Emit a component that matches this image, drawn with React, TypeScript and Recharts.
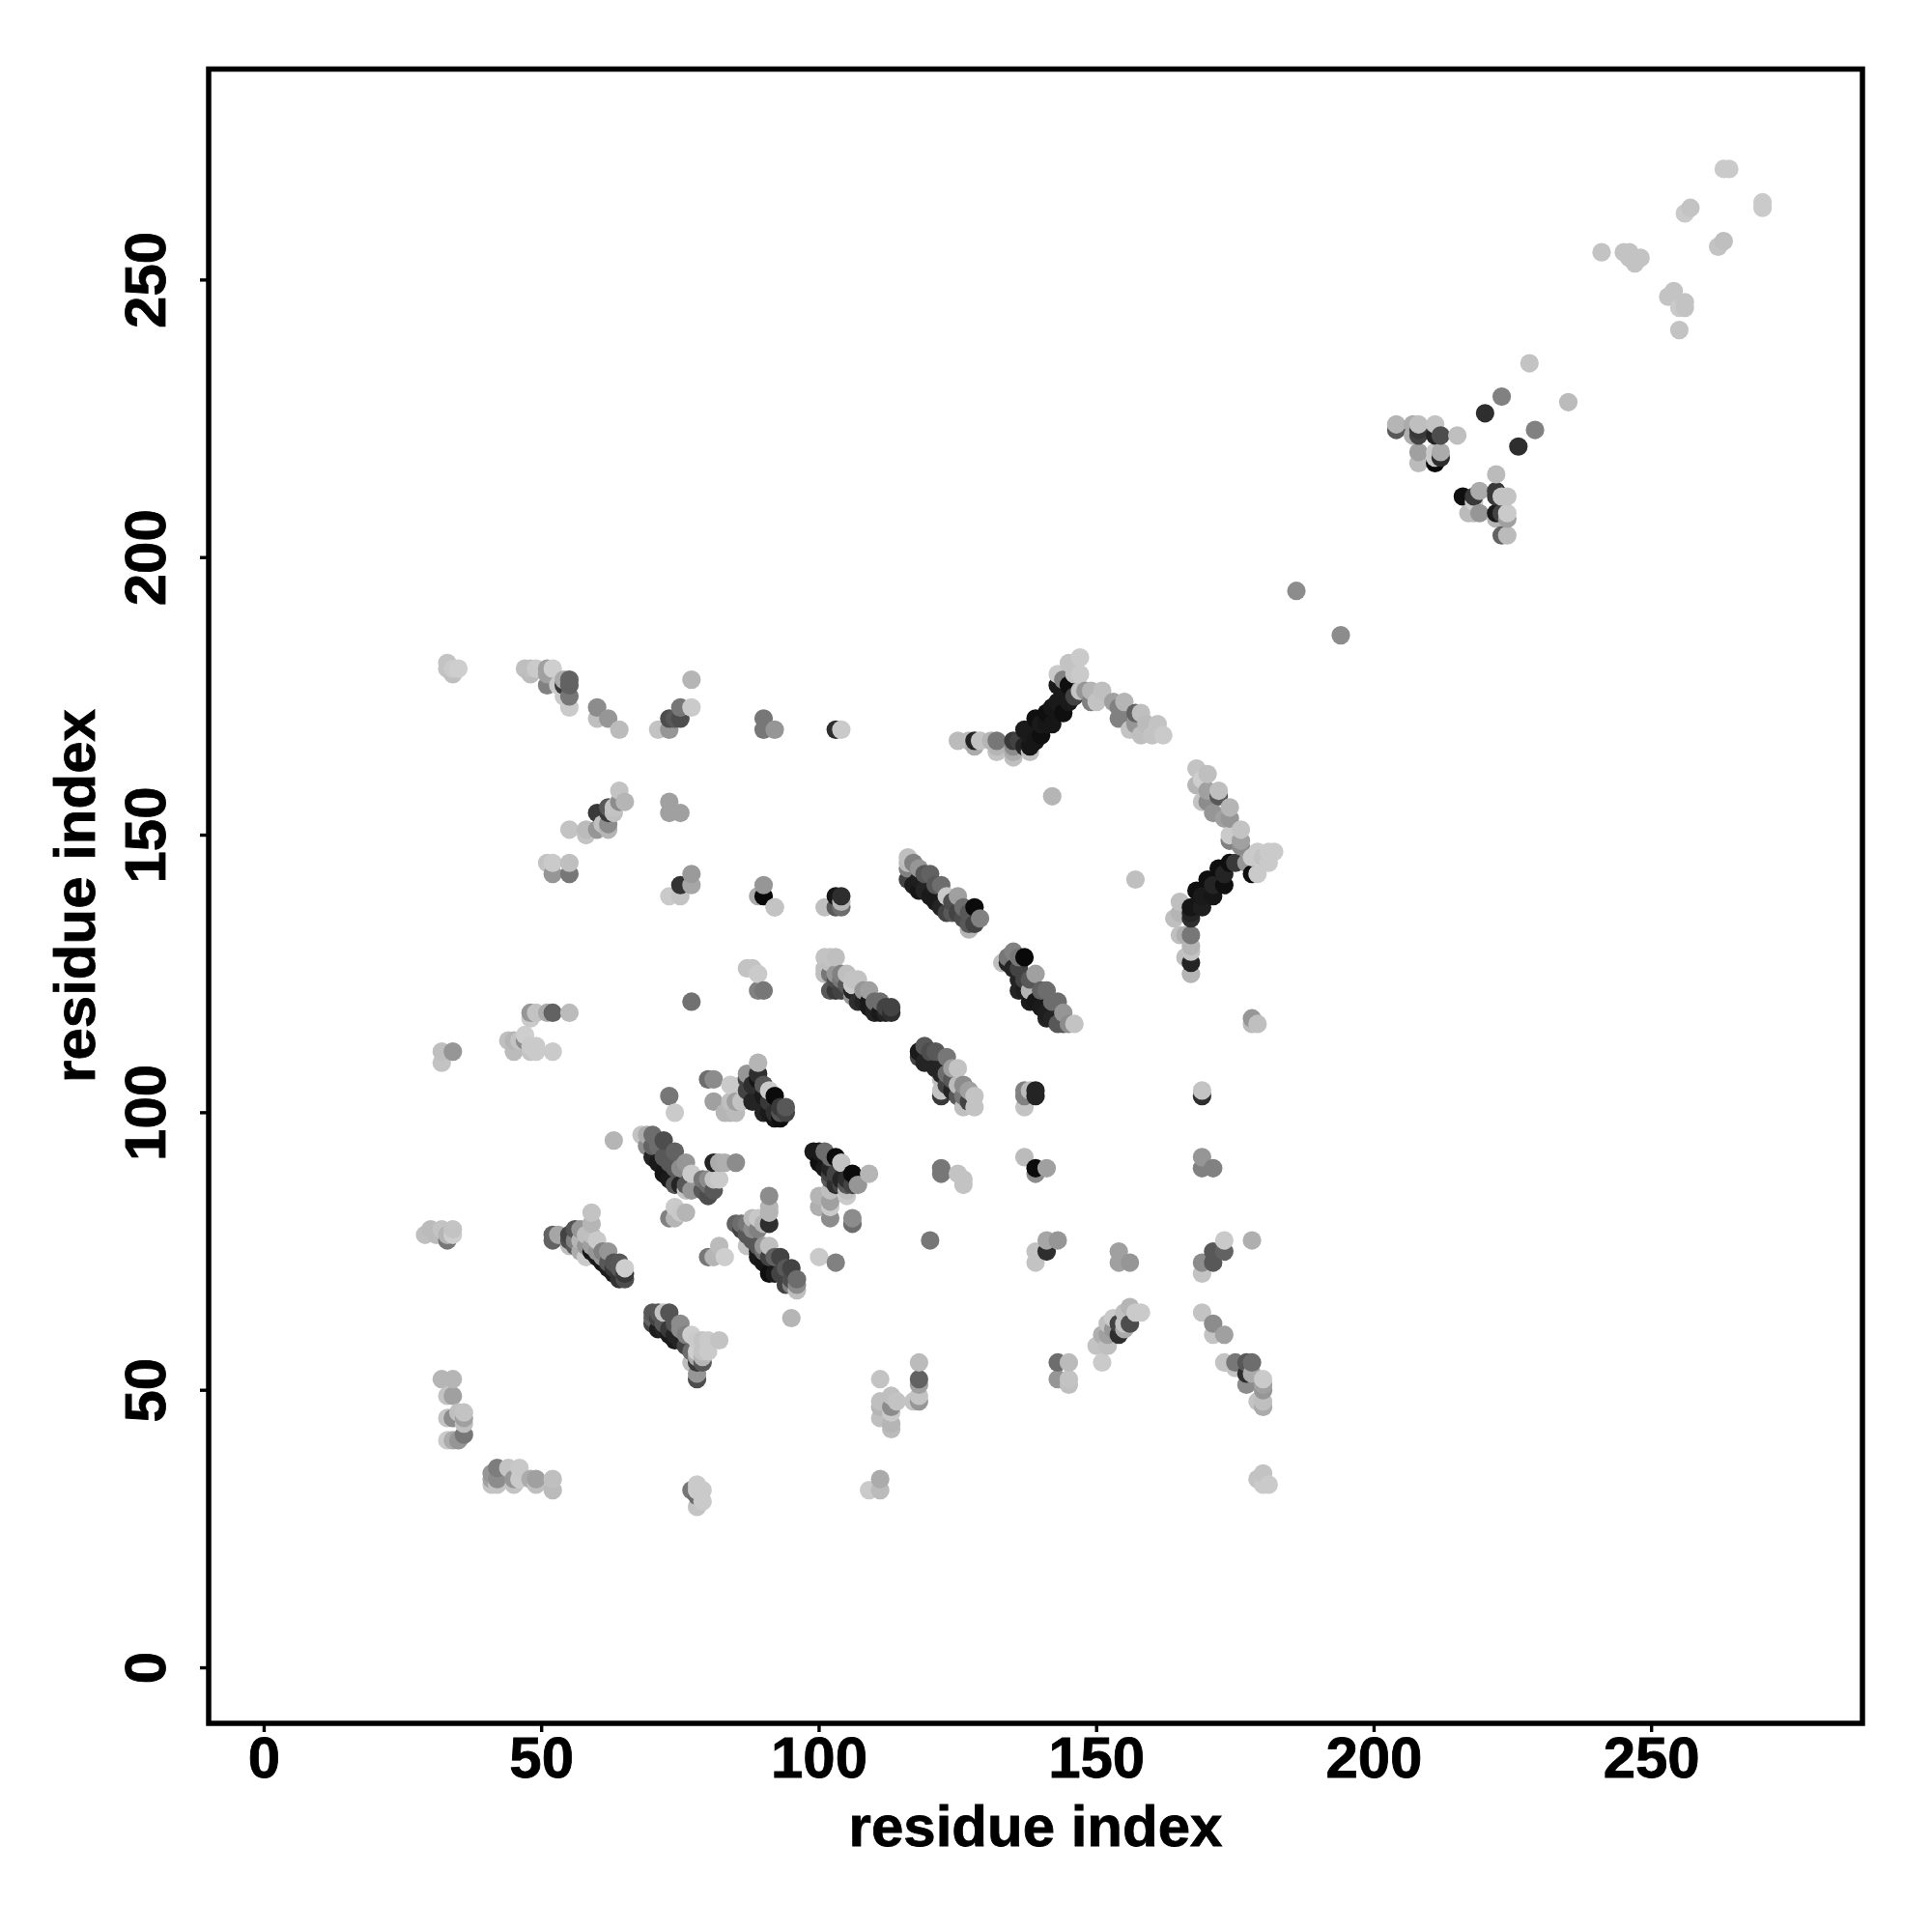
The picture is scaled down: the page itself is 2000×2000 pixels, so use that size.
import React from 'react';
import { ScatterChart, Scatter, XAxis, YAxis, ReferenceArea, Label } from 'recharts';

type P = [number, number, number]; // residue i, residue j, contact score (0 weak .. 100 strong)

const tickValues = [0, 50, 100, 150, 200, 250];
const axisTitle = 'residue index';

const lowerLeft: P[] = [
  [29,78,10],[30,79,12],[31,78,12],[32,79,8],[33,77,45],[33,78,15],[34,79,8],[34,78,3],
  [32,52,15],[34,52,15],[33,49,8],[34,49,25],[33,45,8],[34,45,35],[35,46,10],[36,46,8],[36,45,25],[36,44,10],
  [33,41,5],[34,41,20],[35,41,30],[36,42,45],
  [41,33,8],[41,34,25],[41,35,30],[42,33,8],[42,34,35],[42,36,42],[44,36,8],[45,33,8],[45,34,30],[46,36,6],[46,34,5],[48,34,20],[49,33,10],[49,34,25],[52,34,10],[52,32,12],
  [77,32,45],[78,33,5],[78,31,50],[78,32,5],[79,32,5],[78,29,8],[79,30,5],
];

const strandB: P[] = [
  [52,77,55],[52,78,55],[53,78,22],[55,76,10],[55,77,65],[55,78,70],[56,76,60],[56,77,40],[56,79,62],
  [57,75,20],[57,77,15],[57,79,30],[58,74,5],[58,76,30],[58,78,10],[59,75,92],[59,76,25],[59,78,10],[59,80,15],[59,82,8],
  [60,74,90],[60,75,30],[60,77,5],[61,73,92],[61,74,30],[61,75,40],[62,72,88],[62,73,60],[62,75,30],[63,71,88],[63,72,75],[63,73,62],
  [64,70,78],[64,72,60],[64,73,60],[65,70,65],[65,71,75],[65,72,3],
];

const strandK: P[] = [
  [70,62,70],[70,63,55],[70,64,60],[71,61,88],[71,63,70],[71,64,60],[72,61,85],[72,62,60],[72,64,8],[73,60,90],[73,61,75],[73,64,62],
  [74,59,90],[74,60,85],[74,62,62],[75,59,85],[75,61,35],[75,62,35],[76,58,70],[76,60,40],[77,55,10],[77,57,50],[77,60,3],
  [78,52,65],[78,53,30],[78,55,75],[78,56,20],[78,57,3],[78,59,5],[79,55,60],[79,56,15],[79,57,8],[79,59,8],[80,57,5],[80,59,5],[82,59,8],
];

const strandD: P[] = [
  [63,95,15],[68,96,8],[69,94,35],[69,96,20],[70,92,85],[70,94,55],[70,96,50],[71,91,90],[71,94,50],[72,89,92],[72,92,60],[72,95,65],
  [73,88,90],[73,91,60],[74,87,60],[74,90,60],[74,93,55],[75,87,85],[75,90,35],[76,86,8],[76,87,60],[76,91,30],[77,86,30],[77,89,5],
  [79,86,60],[79,88,45],[80,85,65],[80,87,50],[80,88,35],[81,86,60],[81,88,8],[81,91,85],[82,88,5],[82,91,20],[83,91,18],[85,91,35],
  [73,103,45],[74,100,5],[74,83,5],[75,82,6],[76,82,15],[73,81,40],[74,81,15],[80,74,45],[81,74,15],[82,76,12],[83,74,3],[100,74,5],[103,73,40],
];

const strandC: P[] = [
  [85,80,55],[86,80,50],[86,79,70],[87,76,8],[87,78,60],[87,80,45],[88,77,60],[88,79,35],[88,81,12],[89,74,90],[89,75,90],[89,76,60],[89,79,40],[89,81,6],
  [90,73,92],[90,75,50],[90,76,30],[90,80,15],[91,71,95],[91,74,70],[91,76,10],[91,80,80],[91,82,15],[91,83,15],[91,85,35],[92,71,90],[92,74,55],
  [93,71,70],[93,74,70],[94,69,70],[94,72,60],[95,63,15],[95,69,40],[95,70,65],[95,72,70],[96,68,10],[96,69,35],[96,70,50],
];

const strandE: P[] = [
  [80,106,50],[81,102,25],[81,106,35],[83,100,15],[84,100,15],[84,102,10],[84,105,5],[85,100,12],[85,102,25],[86,102,8],[86,105,5],
  [87,104,70],[87,106,70],[87,107,30],[88,102,85],[88,105,80],[89,102,85],[89,106,92],[89,107,80],[89,109,15],
  [90,100,85],[90,103,90],[90,105,60],[91,100,90],[91,102,75],[91,104,5],[92,99,92],[92,100,80],[92,103,97],[93,99,95],[93,100,62],[93,101,75],[94,100,70],[94,101,60],
];

const strandF: P[] = [
  [99,93,90],[100,83,18],[100,85,15],[100,91,95],[100,93,90],[101,90,90],[101,93,50],[102,81,35],[102,83,5],[102,84,25],[102,86,10],[102,88,60],[102,89,70],[102,90,85],[102,92,50],
  [103,87,80],[103,89,70],[103,92,97],[104,87,70],[104,88,85],[104,91,8],[105,85,5],[105,87,60],[105,86,10],[105,88,80],[106,80,50],[106,81,35],[106,87,70],[106,89,97],[107,87,30],[109,89,15],
];

const strandG: P[] = [
  [101,125,10],[101,126,10],[101,128,8],[102,122,60],[102,125,45],[102,127,10],[102,128,8],[103,122,75],[103,124,65],[103,125,30],[103,128,10],
  [104,122,70],[104,124,45],[104,125,40],[105,123,60],[105,125,10],[106,121,30],[106,123,5],[106,122,85],[106,124,8],[107,120,80],[107,124,8],[108,120,85],[108,122,30],
  [109,119,90],[109,120,90],[109,122,25],[110,118,85],[110,120,50],[111,118,90],[111,120,50],[112,118,85],[112,119,70],[113,118,80],[113,119,70],
];

const strandH: P[] = [
  [116,142,70],[116,144,40],[116,145,12],[116,146,10],[117,141,88],[117,145,40],[118,140,92],[118,142,88],[118,144,30],[119,140,85],[119,143,60],[120,139,90],[120,143,55],
  [121,138,90],[121,141,60],[122,137,85],[122,141,50],[123,136,70],[123,139,5],[124,136,60],[124,138,65],[125,136,70],[125,139,25],[126,135,65],[126,137,50],
  [127,133,15],[127,134,60],[127,136,60],[128,134,70],[128,137,97],[129,135,40],
  [101,137,10],[103,137,60],[103,139,92],[104,137,50],[104,138,15],[104,139,80],[92,137,10],
];

const strandI: P[] = [
  [133,127,10],[134,127,85],[134,128,45],[135,126,85],[135,129,40],[136,122,85],[136,124,85],[136,126,70],[136,128,45],[137,122,88],[137,124,70],[137,128,98],
  [138,120,90],[138,122,15],[138,124,60],[139,120,92],[139,125,25],[140,119,90],[140,122,55],[141,117,85],[141,118,88],[141,122,50],[142,117,85],[142,120,50],
  [143,116,60],[143,120,50],[144,116,60],[144,118,30],[145,116,35],[146,116,8],
];

const strandJ: P[] = [
  [118,110,70],[118,111,90],[119,109,85],[119,112,60],[120,109,85],[120,111,65],[121,108,85],[121,111,60],[122,103,75],[122,104,8],[122,106,10],[122,107,85],
  [123,105,70],[123,107,50],[123,110,45],[124,104,85],[124,106,60],[124,108,25],[125,103,60],[125,105,12],[125,108,8],[126,101,10],[126,103,45],[126,105,35],[127,102,70],[127,104,25],[128,101,8],[128,103,8],
  [137,104,40],[137,103,40],[137,101,8],[138,104,12],[139,103,85],[139,104,85],[169,103,80],[169,104,8],
  [137,92,12],[139,89,35],[139,90,97],[141,90,25],[169,92,30],[169,90,40],[171,90,40],
  [122,89,45],[122,90,45],[125,89,8],[126,88,8],[126,87,8],[120,77,45],
];

const lowerRight: P[] = [
  [139,73,8],[139,75,8],[141,75,80],[141,77,22],[143,77,30],[154,75,25],[154,73,25],[156,73,30],
  [143,55,50],[145,55,12],[143,52,30],[145,52,8],[145,51,10],
  [151,55,5],[150,58,8],[152,58,10],[151,60,18],[152,60,25],[154,60,80],[152,62,10],[154,62,70],[153,61,30],[155,61,20],[156,62,65],[153,63,5],[155,62,8],[156,65,15],[155,64,10],[157,64,5],[158,64,5],
  [169,71,8],[169,73,35],[171,73,60],[171,75,60],[173,75,55],[173,77,5],[178,77,18],
  [169,64,8],[171,62,35],[171,60,8],[173,60,25],[173,55,8],[175,55,45],[177,55,60],[178,55,50],[175,54,8],[177,51,35],[177,53,80],[178,53,20],[180,52,5],[180,51,25],[180,50,30],[180,48,10],[180,47,20],[179,48,8],[179,34,8],[180,35,8],[181,33,5],[180,33,5],
  [109,32,5],[111,32,12],[111,34,20],
  [118,55,12],[118,52,55],[118,51,25],[118,49,8],[118,48,30],[117,48,8],[111,52,8],[111,48,10],[111,47,15],[113,49,10],[114,48,8],[113,47,35],[113,46,5],[111,45,10],[113,44,15],[113,43,12],
];

const upperLeft: P[] = [
  [33,180,8],[33,181,8],[34,179,10],[34,180,5],[35,180,3],
  [47,180,10],[48,179,12],[48,180,10],[49,180,5],[51,177,40],[51,179,25],[51,180,25],[52,180,3],[53,177,5],[54,175,5],[54,177,75],[54,178,20],[55,173,5],[55,175,45],[55,177,55],[55,178,55],
  [60,171,10],[60,173,35],[62,171,30],[64,169,12],[71,169,8],[73,169,30],[73,171,65],[74,171,60],[75,171,65],[75,173,45],[77,173,5],[77,178,15],
  [90,169,45],[90,171,45],[92,169,30],[103,169,80],[104,169,5],
  [55,151,8],[58,150,8],[58,151,12],[60,151,30],[60,154,75],[61,152,10],[62,151,15],[62,152,35],[62,154,75],[62,155,60],[63,154,10],[63,155,8],[64,156,35],[64,158,8],[65,156,15],
  [73,154,25],[73,156,25],[75,154,25],[51,145,8],[52,143,30],[52,145,5],[55,143,45],[55,145,10],
  [73,139,5],[75,139,8],[75,141,78],[77,141,22],[77,143,28],[89,139,20],[90,139,98],[90,141,30],[92,137,8],
  [87,126,8],[88,126,8],[89,125,5],[89,122,40],[90,122,45],[77,120,48],
  [48,117,5],[48,118,30],[49,118,8],[51,118,20],[52,118,55],[55,118,12],[32,109,8],[32,111,10],[34,111,30],
  [44,113,10],[45,111,12],[45,113,15],[46,113,8],[47,113,35],[47,114,3],[48,111,8],[48,112,5],[49,111,5],[49,112,5],[52,111,5],
];

const ridgeTop: P[] = [
  [125,167,12],[127,167,12],[128,166,20],[128,167,85],[129,167,8],[131,167,15],[132,165,8],[132,166,15],[132,167,45],
  [135,164,10],[135,165,20],[135,166,35],[135,167,75],[136,167,70],[137,169,90],[137,166,85],[138,165,10],[138,166,92],[138,168,90],[139,171,95],[139,167,92],[140,168,95],[140,170,90],
  [141,172,95],[141,170,92],[142,170,92],[142,173,92],[143,174,90],[143,172,92],[143,177,90],[143,179,5],[144,172,95],[144,175,90],[144,178,40],[145,174,90],[145,177,95],[145,181,8],[146,175,70],[146,179,8],[147,176,8],[147,179,5],[147,182,5],
  [148,176,30],[149,174,40],[149,176,15],[150,174,8],[151,176,10],[153,174,25],[154,171,40],[154,173,40],[155,174,15],[156,169,8],[157,170,30],[157,172,55],[158,168,10],[158,172,10],[159,170,12],[160,168,8],[161,170,8],[162,168,5],
  [142,157,15],[157,142,10],
];

const ridgeRight: P[] = [
  [168,159,15],[168,162,8],[169,156,8],[169,160,3],[170,156,35],[170,158,25],[170,161,10],[171,154,30],[172,157,60],[172,158,10],[173,153,25],[174,149,40],[174,150,5],[174,153,30],[174,155,15],[176,148,35],[176,149,25],[176,151,8],
  [174,145,95],[175,145,75],[172,144,95],[173,143,85],[173,141,95],[170,142,95],[171,141,85],[171,139,92],[168,140,95],[169,139,90],[169,137,88],[167,137,92],[167,136,85],[167,135,80],
  [165,138,10],[164,135,10],[165,136,15],[165,132,10],[166,132,18],[167,132,45],[167,130,15],[166,128,10],[167,129,8],[167,127,85],[167,125,15],
  [177,145,30],[178,143,95],[179,143,5],[178,146,5],[179,147,5],[181,145,5],[180,146,8],[182,147,5],[181,147,5],
  [178,116,12],[179,116,10],[178,117,30],[186,194,35],[194,186,35],
];

const upperRight: P[] = [
  [204,223,60],[204,224,15],[207,222,18],[207,224,20],[208,217,12],[208,219,25],[208,222,70],[208,223,75],[208,224,10],[211,217,98],[211,218,5],[211,219,5],[211,222,85],[211,224,8],[212,218,80],[212,219,20],[212,222,65],[215,222,10],
  [220,226,80],[223,229,40],[226,220,80],[229,223,40],[235,228,12],[228,235,8],
  [222,215,12],[216,211,95],[217,208,12],[218,208,12],[218,210,5],[218,211,75],[219,208,30],[219,212,20],[222,207,15],[222,208,90],[222,211,75],[222,212,75],[223,204,55],[223,208,70],[223,211,8],[224,204,12],[224,207,25],[224,208,5],[224,211,8],
  [241,255,8],[245,255,8],[246,254,8],[246,255,8],[247,253,8],[248,254,8],[253,247,8],[254,248,8],[255,241,8],[255,245,5],[256,245,8],[256,246,8],[256,262,5],[257,263,8],[262,256,8],[263,257,10],[263,270,5],[264,270,5],[270,263,5],[270,264,5],
];

const contacts = [
  lowerLeft, strandB, strandK, strandD, strandC, strandE, strandF, strandG, strandH, strandI, strandJ,
  lowerRight, upperLeft, ridgeTop, ridgeRight, upperRight,
]
  .flat()
  .map(([i, j, score]) => ({ i, j, score }))
  .sort((a, b) => a.i - b.i || a.j - b.j);

const shade = (score: number) => {
  const g = Math.round(212 - 2.07 * score);
  return `rgb(${g},${g},${g})`;
};

const FONT = '"Liberation Sans", Arial, sans-serif';
const heavy = { fontFamily: FONT, fontWeight: 'bold', fontSize: 60, fill: '#000', stroke: '#000', strokeWidth: 0.8 } as const;

const XTick = (p: any) => (
  <text x={p.x} y={1840} textAnchor="middle" {...heavy}>
    {p.payload.value}
  </text>
);
const YTick = (p: any) => (
  <text x={171} y={p.y} transform={`rotate(-90 171 ${p.y})`} textAnchor="middle" {...heavy}>
    {p.payload.value}
  </text>
);
const Dot = (p: any) => <circle cx={p.cx} cy={p.cy} r={9.6} fill={shade(p.payload.score)} />;

export default function App() {
  return (
    <div style={{ position: 'absolute', left: 0, top: 0, width: 2000, height: 2000, background: '#fff' }}>
      <ScatterChart width={2000} height={2000} margin={{ top: 71.5, right: 72, bottom: 0, left: 0 }}>
        <XAxis
          type="number"
          dataKey="i"
          domain={[-10, 288]}
          ticks={tickValues}
          allowDataOverflow
          height={216}
          axisLine={false}
          tickSize={9}
          tickLine={{ stroke: '#000', strokeWidth: 3.4 }}
          tick={XTick}
          interval={0}
        >
          <Label
            content={() => (
              <text x={1072} y={1911} textAnchor="middle" {...heavy}>
                {axisTitle}
              </text>
            )}
          />
        </XAxis>
        <YAxis
          type="number"
          dataKey="j"
          domain={[-10, 288]}
          ticks={tickValues}
          allowDataOverflow
          width={216}
          axisLine={false}
          tickSize={9}
          tickLine={{ stroke: '#000', strokeWidth: 3.4 }}
          tick={YTick}
          interval={0}
        >
          <Label
            content={() => (
              <text x={98} y={927.5} transform="rotate(-90 98 927.5)" textAnchor="middle" {...heavy}>
                {axisTitle}
              </text>
            )}
          />
        </YAxis>
        <ReferenceArea x1={-10} x2={288} y1={-10} y2={288} fill="none" stroke="#000" strokeWidth={5.5} ifOverflow="visible" />
        <Scatter data={contacts} isAnimationActive={false} shape={Dot} />
      </ScatterChart>
    </div>
  );
}
